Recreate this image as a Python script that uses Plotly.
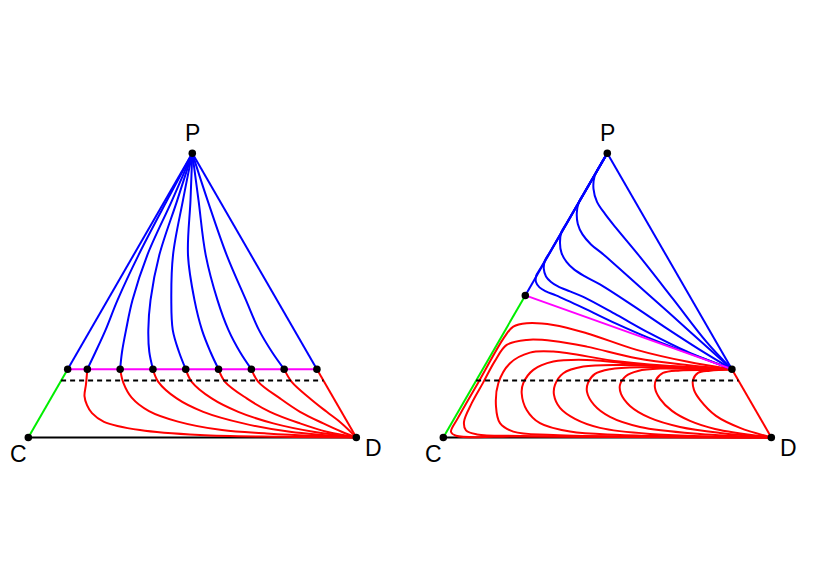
import plotly.graph_objects as go

H = 3 ** 0.5 / 2          # height of the unit triangle
Y_FIX = 0.208             # level of the line of rest points
Y_DASH = 0.1732           # dashed reference level

# corners of the simplex: C bottom left, D bottom right, P top
corner_names = ["C", "D", "P"]
corner_x = [0.0, 1.0, 0.5]
corner_y = [0.0, 0.0, H]

# ---- left panel -------------------------------------------------------
left_rest_x = [0.1201, 0.18, 0.28, 0.38, 0.48, 0.58, 0.68, 0.78, 0.8799]

# orbits from P down to the rest points (same heights for every orbit)
left_blue_y = [0.7235, 0.5558, 0.4186, 0.3271, 0.2604, Y_FIX]
left_blue_x = [
    [0.4235, 0.3360, 0.2720, 0.2354, 0.2049, 0.18],
    [0.4387, 0.3628, 0.3177, 0.2979, 0.2857, 0.28],
    [0.4543, 0.3994, 0.3726, 0.3659, 0.3689, 0.38],
    [0.4716, 0.4412, 0.4360, 0.4405, 0.4595, 0.48],
    [0.4945, 0.4869, 0.5067, 0.5296, 0.5555, 0.58],
    [0.5189, 0.5409, 0.5768, 0.6104, 0.6454, 0.68],
    [0.5463, 0.6049, 0.6637, 0.7034, 0.7430, 0.78],
]

left_red = [
    ([0.18, 0.1759, 0.1713, 0.1790, 0.1942, 0.2308, 0.3405, 0.5235, 0.7674, 1.0],
     [Y_FIX, 0.1625, 0.1259, 0.0985, 0.0741, 0.0476, 0.0223, 0.0070, 0.0018, 0.0]),
    ([0.28, 0.2896, 0.3152, 0.3680, 0.4564, 0.5905, 0.7268, 0.8893, 1.0],
     [Y_FIX, 0.1671, 0.1213, 0.0802, 0.0482, 0.0223, 0.0122, 0.0040, 0.0]),
    ([0.38, 0.3963, 0.4524, 0.5335, 0.6555, 0.7979, 1.0],
     [Y_FIX, 0.1695, 0.1189, 0.0780, 0.0427, 0.0171, 0.0]),
    ([0.48, 0.4982, 0.5591, 0.6402, 0.7470, 0.8689, 1.0],
     [Y_FIX, 0.1695, 0.1189, 0.0780, 0.0427, 0.0171, 0.0]),
    ([0.58, 0.5997, 0.6659, 0.7369, 0.8284, 0.9098, 1.0],
     [Y_FIX, 0.1695, 0.1189, 0.0780, 0.0427, 0.0171, 0.0]),
    ([0.68, 0.7012, 0.7674, 0.8284, 0.8994, 0.9555, 1.0],
     [Y_FIX, 0.1695, 0.1189, 0.0780, 0.0427, 0.0171, 0.0]),
    ([0.78, 0.8030, 0.8588, 0.9098, 0.9555, 1.0],
     [Y_FIX, 0.1695, 0.1189, 0.0780, 0.0427, 0.0]),
]

# ---- right panel ------------------------------------------------------
right_rest_x = [0.25, 0.8799]
right_rest_y = [0.433, Y_FIX]

right_blue = [
    ([0.5, 0.4793, 0.4610, 0.4579, 0.4686, 0.4930, 0.5265, 0.5997, 0.7003, 0.8024, 0.8799],
     [H, 0.8323, 0.7957, 0.7576, 0.7180, 0.6814, 0.6387, 0.5503, 0.4223, 0.2912, Y_FIX]),
    ([0.5, 0.4293, 0.4131, 0.4070, 0.4101, 0.4244, 0.4503, 0.4899, 0.6098, 0.7521, 0.8799],
     [H, 0.7454, 0.7165, 0.6845, 0.6509, 0.6189, 0.5884, 0.5564, 0.4497, 0.3223, Y_FIX]),
    ([0.5, 0.3771, 0.3598, 0.3558, 0.3604, 0.3756, 0.3985, 0.4320, 0.4777, 0.5793, 0.6811, 0.7826, 0.8799],
     [H, 0.6552, 0.6250, 0.5930, 0.5625, 0.5351, 0.5122, 0.4909, 0.4665, 0.4009, 0.3323, 0.2668, Y_FIX]),
    ([0.5, 0.3256, 0.3095, 0.3064, 0.3131, 0.3284, 0.3497, 0.3863, 0.4268, 0.5287, 0.6302, 0.7421, 0.8799],
     [H, 0.5655, 0.5381, 0.5137, 0.4909, 0.4741, 0.4604, 0.4451, 0.4284, 0.3735, 0.3171, 0.2622, Y_FIX]),
    ([0.5, 0.2979, 0.2832, 0.2826, 0.2933, 0.3131, 0.3436, 0.4268, 0.5287, 0.6302, 0.7421, 0.8799],
     [H, 0.5177, 0.4924, 0.4741, 0.4573, 0.4451, 0.4329, 0.3948, 0.3460, 0.3018, 0.2591, Y_FIX]),
]

right_red = [
    ([0.8799, 0.7421, 0.5896, 0.4372, 0.3354, 0.2543, 0.2134, 0.1866, 0.1058, 0.0448, 0.0235, 0.0387, 0.2338, 0.6302, 1.0],
     [Y_FIX, 0.2311, 0.2668, 0.3177, 0.3430, 0.3482, 0.3378, 0.3064, 0.1662, 0.0595, 0.0168, 0.0052, 0.0030, 0.0021, 0.0]),
    ([0.8799, 0.7421, 0.5896, 0.4372, 0.3354, 0.2543, 0.1933, 0.1576, 0.1210, 0.0866, 0.0631, 0.0692, 0.1027, 0.2338, 1.0],
     [Y_FIX, 0.2210, 0.2415, 0.2768, 0.2942, 0.2973, 0.2820, 0.2332, 0.1662, 0.1043, 0.0473, 0.0213, 0.0091, 0.0046, 0.0]),
    ([0.8799, 0.7421, 0.5387, 0.3354, 0.2643, 0.2034, 0.1677, 0.1607, 0.1729, 0.2134, 0.3354, 1.0],
     [Y_FIX, 0.2140, 0.2311, 0.2616, 0.2585, 0.2262, 0.1652, 0.0939, 0.0433, 0.0177, 0.0076, 0.0]),
    ([0.8799, 0.6402, 0.4372, 0.3354, 0.2744, 0.2439, 0.2390, 0.2543, 0.2948, 0.3863, 0.5387, 1.0],
     [Y_FIX, 0.2180, 0.2363, 0.2311, 0.2058, 0.1652, 0.1348, 0.0838, 0.0433, 0.0177, 0.0076, 0.0]),
    ([0.8799, 0.7216, 0.5387, 0.4268, 0.3659, 0.3405, 0.3375, 0.3558, 0.4015, 0.4777, 0.6302, 1.0],
     [Y_FIX, 0.2159, 0.2210, 0.2159, 0.1957, 0.1601, 0.1296, 0.0899, 0.0564, 0.0290, 0.0107, 0.0]),
    ([0.8799, 0.7826, 0.5997, 0.5082, 0.4625, 0.4412, 0.4381, 0.4595, 0.5082, 0.5997, 0.7826, 1.0],
     [Y_FIX, 0.2098, 0.2140, 0.2079, 0.1936, 0.1662, 0.1387, 0.0991, 0.0625, 0.0320, 0.0107, 0.0]),
    ([0.8799, 0.7979, 0.6607, 0.5936, 0.5570, 0.5387, 0.5418, 0.5692, 0.6302, 0.7216, 0.8436, 1.0],
     [Y_FIX, 0.2073, 0.2098, 0.2027, 0.1875, 0.1601, 0.1326, 0.0960, 0.0595, 0.0320, 0.0137, 0.0]),
    ([0.8799, 0.8284, 0.7216, 0.6698, 0.6485, 0.6454, 0.6607, 0.6973, 0.7521, 0.8284, 1.0],
     [Y_FIX, 0.2058, 0.2043, 0.1966, 0.1753, 0.1509, 0.1174, 0.0808, 0.0503, 0.0259, 0.0]),
    ([0.8799, 0.8131, 0.7765, 0.7613, 0.7643, 0.7826, 0.8314, 0.9046, 1.0],
     [Y_FIX, 0.2034, 0.1966, 0.1753, 0.1448, 0.1143, 0.0655, 0.0290, 0.0]),
]

BLUE, RED, GREEN, MAGENTA = "#0000ff", "#ff0000", "#00ee00", "#ff00ff"
LW = 2

fig = go.Figure()


def line(xs, ys, color, ax, dash=None, spline=False):
    fig.add_trace(go.Scatter(
        x=xs, y=ys, mode="lines", xaxis=ax[0], yaxis=ax[1], hoverinfo="skip",
        line=dict(color=color, width=LW, dash=dash,
                  shape="spline" if spline else "linear", smoothing=1.0)))


def frame(ax, left_end, right_end):
    line([corner_x[0], corner_x[1]], [0, 0], "black", ax)
    line([0, left_end[0]], [0, left_end[1]], GREEN, ax)
    line([corner_x[2], left_end[0]], [H, left_end[1]], BLUE, ax)
    line([corner_x[2], right_end[0]], [H, right_end[1]], BLUE, ax)
    line([right_end[0], 1], [right_end[1], 0], RED, ax)


# left panel
L = ("x", "y")
frame(L, (left_rest_x[0], Y_FIX), (left_rest_x[-1], Y_FIX))
for xs in left_blue_x:
    line([0.5] + xs, [H] + left_blue_y, BLUE, L, spline=True)
for xs, ys in left_red:
    line(xs, ys, RED, L, spline=True)
line([left_rest_x[0], left_rest_x[-1]], [Y_FIX, Y_FIX], MAGENTA, L)
line([Y_DASH / 3 ** 0.5, 1 - Y_DASH / 3 ** 0.5], [Y_DASH, Y_DASH], "black", L, dash="5px,4px")
fig.add_trace(go.Scatter(x=corner_x + left_rest_x, y=corner_y + [Y_FIX] * len(left_rest_x),
                         mode="markers", xaxis="x", yaxis="y", hoverinfo="skip",
                         marker=dict(color="black", size=7.5)))

# right panel
R = ("x2", "y2")
frame(R, (right_rest_x[0], right_rest_y[0]), (right_rest_x[1], right_rest_y[1]))
for xs, ys in right_red:
    line(xs, ys, RED, R, spline=True)
for xs, ys in right_blue:
    line(xs, ys, BLUE, R, spline=True)
line(right_rest_x, right_rest_y, MAGENTA, R)
line([Y_DASH / 3 ** 0.5, 1 - Y_DASH / 3 ** 0.5], [Y_DASH, Y_DASH], "black", R, dash="5px,4px")
fig.add_trace(go.Scatter(x=corner_x + right_rest_x, y=corner_y + right_rest_y,
                         mode="markers", xaxis="x2", yaxis="y2", hoverinfo="skip",
                         marker=dict(color="black", size=7.5)))

# corner labels
shifts = {"C": (-10, -17), "D": (17, -11), "P": (0, 20)}
for xr, yr in [("x", "y"), ("x2", "y2")]:
    for name, cx, cy in zip(corner_names, corner_x, corner_y):
        fig.add_annotation(x=cx, y=cy, xref=xr, yref=yr, text=name, showarrow=False,
                           xshift=shifts[name][0], yshift=shifts[name][1],
                           font=dict(family="Liberation Sans, Arial", size=23, color="black"))

# the page body adds an 8px margin, the ranges absorb it
xr = [-0.06189, 1.20335]
yr = [-0.46219, 1.30915]
ax_style = dict(visible=False, showgrid=False, zeroline=False, fixedrange=True)
fig.update_layout(
    width=830, height=581, margin=dict(l=0, r=0, t=0, b=0),
    plot_bgcolor="white", paper_bgcolor="white", showlegend=False,
    xaxis=dict(domain=[0, 0.5], range=xr, **ax_style),
    yaxis=dict(domain=[0, 1], range=yr, **ax_style),
    xaxis2=dict(domain=[0.5, 1], range=xr, anchor="y2", **ax_style),
    yaxis2=dict(domain=[0, 1], range=yr, anchor="x2", **ax_style),
)

fig.write_html("out.html")
